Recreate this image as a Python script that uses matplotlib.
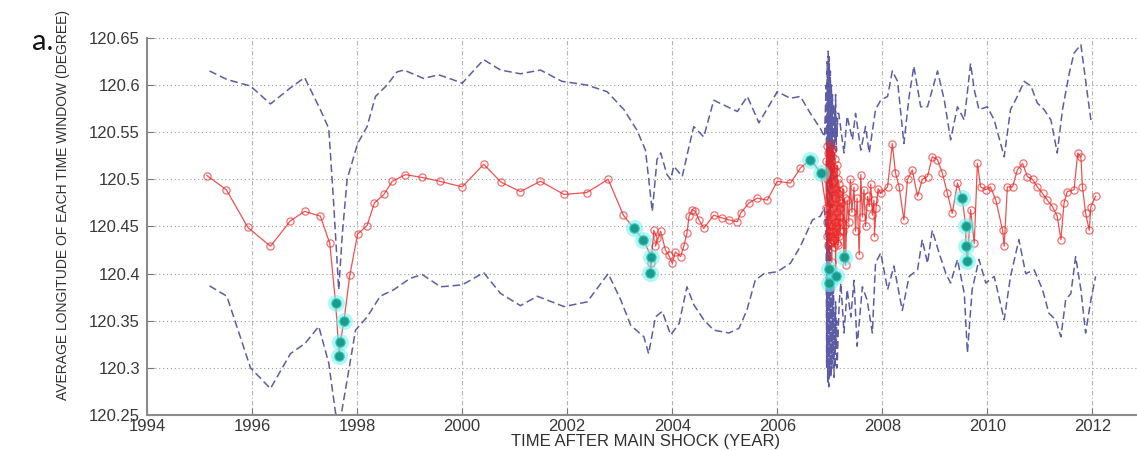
import matplotlib
matplotlib.use("Agg")
import matplotlib.pyplot as plt

# ---- mean longitude of each time window (red circles) ----
mean_t = [
    1995.14, 1995.51, 1995.92, 1996.35, 1996.73, 1997.00, 1997.30, 1997.48,
    1997.59, 1997.66, 1997.68, 1997.75, 1997.86, 1998.01, 1998.19, 1998.33,
    1998.51, 1998.67, 1998.92, 1999.24, 1999.57, 2000.00, 2000.41, 2000.74,
    2001.11, 2001.49, 2001.94, 2002.37, 2002.78, 2003.07, 2003.27, 2003.45,
    2003.60, 2003.59, 2003.58, 2003.65, 2003.71, 2003.68, 2003.78, 2003.87,
    2003.93, 2004.00, 2004.06, 2004.16, 2004.22, 2004.28, 2004.32, 2004.38,
    2004.44, 2004.51, 2004.60, 2004.79, 2004.95, 2005.08, 2005.24, 2005.30,
    2005.46, 2005.62, 2005.81, 2006.00, 2006.25, 2006.44, 2006.63, 2006.83,
    2006.930, 2006.935, 2006.940, 2006.945, 2006.950, 2006.955, 2006.960,
    2006.965, 2006.970, 2006.975, 2006.980, 2006.985, 2006.990, 2006.995,
    2007.000, 2007.005, 2007.010, 2007.015, 2007.020, 2007.025, 2007.030,
    2007.035, 2007.040, 2007.045, 2007.050, 2007.055, 2007.060, 2007.065,
    2007.070, 2007.075, 2007.080, 2007.085, 2007.090, 2007.095, 2007.100,
    2007.105, 2007.110, 2007.115, 2007.120, 2007.125, 2007.130, 2007.135,
    2007.140, 2007.145, 2007.150, 2007.155, 2007.160, 2007.165, 2007.170,
    2007.175, 2007.180, 2007.185, 2007.190, 2007.195, 2007.200,
    2007.22, 2007.24, 2007.25, 2007.26, 2007.27, 2007.28, 2007.29, 2007.30,
    2007.33, 2007.36, 2007.39, 2007.42, 2007.46, 2007.49, 2007.52, 2007.56,
    2007.59, 2007.62, 2007.65, 2007.68, 2007.72, 2007.75, 2007.78, 2007.81,
    2007.84, 2007.85, 2007.88, 2007.92, 2007.97, 2008.10, 2008.19, 2008.25,
    2008.32, 2008.41, 2008.48, 2008.57, 2008.67, 2008.76, 2008.86, 2008.95,
    2009.05, 2009.14, 2009.24, 2009.33, 2009.43, 2009.52, 2009.59, 2009.59,
    2009.62, 2009.68, 2009.75, 2009.81, 2009.87, 2009.97, 2010.06, 2010.16,
    2010.29, 2010.32, 2010.38, 2010.48, 2010.57, 2010.67, 2010.76, 2010.86,
    2010.95, 2011.05, 2011.14, 2011.24, 2011.33, 2011.40, 2011.46, 2011.52,
    2011.65, 2011.72, 2011.78, 2011.81, 2011.87, 2011.94, 2011.97, 2012.06,
]
mean_lon = [
    120.504, 120.489, 120.449, 120.429, 120.456, 120.466, 120.461, 120.432,
    120.369, 120.313, 120.327, 120.350, 120.398, 120.442, 120.451, 120.475,
    120.484, 120.498, 120.505, 120.502, 120.498, 120.492, 120.516, 120.497,
    120.487, 120.498, 120.484, 120.486, 120.500, 120.462, 120.448, 120.436,
    120.418, 120.411, 120.401, 120.446, 120.438, 120.429, 120.445, 120.425,
    120.420, 120.411, 120.423, 120.418, 120.429, 120.443, 120.461, 120.468,
    120.466, 120.457, 120.448, 120.462, 120.459, 120.457, 120.455, 120.464,
    120.475, 120.480, 120.478, 120.498, 120.496, 120.512, 120.521, 120.507,
    120.470, 120.520, 120.440, 120.535, 120.455, 120.500, 120.430,
    120.528, 120.462, 120.390, 120.510, 120.445, 120.405, 120.538,
    120.475, 120.432, 120.515, 120.450, 120.530, 120.440, 120.490,
    120.412, 120.525, 120.460, 120.505, 120.436, 120.532, 120.470,
    120.445, 120.512, 120.428, 120.498, 120.455, 120.522, 120.438,
    120.480, 120.397, 120.508, 120.450, 120.490, 120.432, 120.515,
    120.465, 120.442, 120.500, 120.430, 120.485, 120.455, 120.495,
    120.440, 120.478, 120.460, 120.488, 120.445, 120.470,
    120.475, 120.455, 120.490, 120.445, 120.418, 120.480, 120.452, 120.409,
    120.478, 120.455, 120.500, 120.465, 120.492, 120.445, 120.480, 120.420,
    120.505, 120.460, 120.489, 120.450, 120.482, 120.471, 120.495, 120.462,
    120.478, 120.439, 120.470, 120.490, 120.485, 120.492, 120.538, 120.507,
    120.492, 120.457, 120.500, 120.510, 120.482, 120.500, 120.503, 120.524,
    120.521, 120.507, 120.485, 120.464, 120.496, 120.480, 120.450, 120.429,
    120.413, 120.468, 120.432, 120.517, 120.492, 120.489, 120.492, 120.478,
    120.446, 120.429, 120.492, 120.492, 120.510, 120.517, 120.503, 120.500,
    120.492, 120.485, 120.478, 120.471, 120.461, 120.436, 120.475, 120.487,
    120.489, 120.528, 120.524, 120.492, 120.464, 120.446, 120.471, 120.482,
]

# ---- highlighted windows (cyan) ----
flag_t = [1997.59, 1997.66, 1997.68, 1997.75, 2003.27, 2003.45, 2003.60,
          2003.58, 2006.63, 2006.83, 2006.975, 2006.990, 2007.110, 2007.27,
          2009.52, 2009.59, 2009.59, 2009.62]
flag_lon = [120.369, 120.313, 120.327, 120.350, 120.448, 120.436, 120.418,
            120.401, 120.521, 120.507, 120.390, 120.405, 120.397, 120.418,
            120.480, 120.450, 120.429, 120.413]

# ---- upper bound (dashed) ----
upper_t = [
    1995.19, 1995.52, 1995.97, 1996.35, 1996.73, 1997.00, 1997.30, 1997.46,
    1997.55, 1997.65, 1997.72, 1997.81, 1998.01, 1998.19, 1998.35, 1998.57,
    1998.76, 1998.89, 1999.27, 1999.55, 1999.81, 2000.00, 2000.41, 2000.73,
    2001.11, 2001.49, 2001.90, 2002.38, 2002.76, 2003.08, 2003.33, 2003.49,
    2003.62, 2003.71, 2003.78, 2003.90, 2003.97, 2004.03, 2004.19, 2004.32,
    2004.41, 2004.60, 2004.79, 2005.05, 2005.24, 2005.43, 2005.65, 2006.00,
    2006.25, 2006.44, 2006.63, 2006.82, 2006.90,
    2006.93, 2006.94, 2006.95, 2006.96, 2006.97, 2006.98, 2006.99, 2007.00,
    2007.01, 2007.02, 2007.03, 2007.04, 2007.05, 2007.06, 2007.07, 2007.08,
    2007.09, 2007.10, 2007.11, 2007.12, 2007.13, 2007.14, 2007.15,
    2007.17, 2007.27, 2007.33, 2007.43, 2007.49, 2007.59, 2007.68, 2007.75,
    2007.87, 2007.97, 2008.10, 2008.19, 2008.29, 2008.41, 2008.51, 2008.60,
    2008.73, 2008.86, 2009.05, 2009.18, 2009.30, 2009.43, 2009.56, 2009.68,
    2009.75, 2009.84, 2010.00, 2010.13, 2010.32, 2010.44, 2010.57, 2010.70,
    2010.83, 2010.95, 2011.08, 2011.21, 2011.33, 2011.43, 2011.56, 2011.65,
    2011.78, 2011.91, 2011.97,
]
upper_lon = [
    120.615, 120.606, 120.599, 120.580, 120.597, 120.608, 120.574, 120.554,
    120.478, 120.383, 120.443, 120.500, 120.538, 120.556, 120.588, 120.600,
    120.614, 120.616, 120.607, 120.611, 120.606, 120.602, 120.627, 120.616,
    120.612, 120.616, 120.604, 120.600, 120.593, 120.574, 120.552, 120.531,
    120.466, 120.521, 120.528, 120.505, 120.500, 120.514, 120.503, 120.535,
    120.556, 120.545, 120.584, 120.577, 120.572, 120.588, 120.560, 120.593,
    120.586, 120.588, 120.570, 120.554, 120.545,
    120.600, 120.480, 120.625, 120.470, 120.636, 120.500, 120.630, 120.460,
    120.615, 120.490, 120.600, 120.470, 120.590, 120.520, 120.580, 120.500,
    120.575, 120.540, 120.590, 120.530, 120.565, 120.545, 120.570,
    120.570, 120.528, 120.567, 120.542, 120.570, 120.531, 120.556, 120.528,
    120.574, 120.584, 120.588, 120.615, 120.604, 120.538, 120.588, 120.620,
    120.577, 120.577, 120.615, 120.584, 120.542, 120.577, 120.563, 120.623,
    120.595, 120.574, 120.577, 120.563, 120.524, 120.574, 120.588, 120.604,
    120.599, 120.581, 120.574, 120.563, 120.528, 120.574, 120.613, 120.634,
    120.643, 120.588, 120.563,
]

# ---- lower bound (dashed) ----
lower_t = [
    1995.19, 1995.52, 1995.97, 1996.35, 1996.73, 1997.01, 1997.27, 1997.46,
    1997.59, 1997.68, 1997.81, 1997.97, 1998.19, 1998.44, 1998.70, 1999.01,
    1999.24, 1999.59, 2000.00, 2000.41, 2000.73, 2001.11, 2001.43, 2001.94,
    2002.38, 2002.78, 2003.02, 2003.21, 2003.46, 2003.55, 2003.68, 2003.81,
    2003.97, 2004.13, 2004.28, 2004.41, 2004.60, 2004.79, 2005.08, 2005.27,
    2005.42, 2005.58, 2005.75, 2006.00, 2006.25, 2006.44, 2006.67, 2006.82,
    2006.90,
    2006.93, 2006.94, 2006.95, 2006.96, 2006.97, 2006.98, 2006.99, 2007.00,
    2007.01, 2007.02, 2007.03, 2007.04, 2007.05, 2007.06, 2007.07, 2007.08,
    2007.09, 2007.10, 2007.11, 2007.12, 2007.13, 2007.14, 2007.16, 2007.18,
    2007.21, 2007.27, 2007.33, 2007.40, 2007.46, 2007.52, 2007.62, 2007.71,
    2007.81, 2007.87, 2007.97, 2008.10, 2008.22, 2008.38, 2008.51, 2008.67,
    2008.76, 2008.86, 2008.95, 2009.08, 2009.21, 2009.30, 2009.43, 2009.56,
    2009.62, 2009.71, 2009.84, 2009.97, 2010.13, 2010.32, 2010.44, 2010.60,
    2010.73, 2010.89, 2011.05, 2011.17, 2011.30, 2011.40, 2011.49, 2011.59,
    2011.68, 2011.78, 2011.87, 2011.97, 2012.06,
]
lower_lon = [
    120.387, 120.376, 120.300, 120.278, 120.315, 120.326, 120.344, 120.305,
    120.252, 120.245, 120.287, 120.340, 120.354, 120.376, 120.383, 120.395,
    120.399, 120.386, 120.388, 120.401, 120.379, 120.366, 120.376, 120.365,
    120.370, 120.400, 120.372, 120.345, 120.333, 120.315, 120.354, 120.360,
    120.335, 120.347, 120.386, 120.367, 120.351, 120.340, 120.337, 120.342,
    120.361, 120.393, 120.400, 120.402, 120.411, 120.429, 120.457, 120.461,
    120.470,
    120.440, 120.300, 120.460, 120.285, 120.470, 120.280, 120.450, 120.295,
    120.430, 120.290, 120.400, 120.300, 120.380, 120.310, 120.390, 120.290,
    120.360, 120.300, 120.370, 120.320, 120.350, 120.300, 120.340, 120.370,
    120.390, 120.337, 120.383, 120.354, 120.393, 120.323, 120.386, 120.372,
    120.337, 120.411, 120.422, 120.383, 120.408, 120.361, 120.397, 120.404,
    120.436, 120.411, 120.446, 120.422, 120.400, 120.390, 120.415, 120.379,
    120.316, 120.383, 120.415, 120.390, 120.397, 120.351, 120.397, 120.436,
    120.400, 120.404, 120.383, 120.358, 120.351, 120.333, 120.372, 120.379,
    120.418, 120.383, 120.337, 120.372, 120.397,
]

year_ticks = [1994, 1996, 1998, 2000, 2002, 2004, 2006, 2008, 2010, 2012]
lon_ticks = [120.25, 120.30, 120.35, 120.40, 120.45, 120.50, 120.55, 120.60, 120.65]
lon_tick_labels = ["120.25", "120.3", "120.35", "120.4", "120.45",
                   "120.5", "120.55", "120.6", "120.65"]

plt.rcParams["font.family"] = ["Liberation Sans", "DejaVu Sans"]

fig = plt.figure(figsize=(11.37, 4.5), dpi=100)
ax = fig.add_axes([0.1293, 0.0778, 0.8777, 0.8378])
ax.set_xlim(1994, 2013)
ax.set_ylim(120.25, 120.65)

bound_color = "#34348f"
ax.plot(upper_t, upper_lon, color=bound_color, lw=1.1, dashes=(5, 2.5), alpha=0.8)
ax.plot(lower_t, lower_lon, color=bound_color, lw=1.1, dashes=(5, 2.5), alpha=0.8)

ax.plot(mean_t, mean_lon, "-", color="#e62828", lw=0.9, alpha=0.8)
ax.plot(mean_t, mean_lon, "o", mfc="none", mec="#ee2222", mew=0.9, ms=5.2, alpha=0.65)

ax.scatter(flag_t, flag_lon, s=150, color="#6ff0ee", alpha=0.55, lw=0, zorder=4)
ax.scatter(flag_t, flag_lon, s=45, color="#1e9a8a", edgecolor="#2fc9bd", lw=0.8, zorder=5)

ax.set_xticks(year_ticks)
ax.set_yticks(lon_ticks)
ax.set_yticklabels(lon_tick_labels)

ax.grid(True, axis="y", color="#9a9a9a", lw=0.8, linestyle=(0, (1, 2.5)))
ax.grid(True, axis="x", color="#b4b4b4", lw=0.8, linestyle=(0, (4, 2, 1, 2)))

for side in ("top", "right"):
    ax.spines[side].set_visible(False)
for side in ("left", "bottom"):
    ax.spines[side].set_color("#8c8c8c")
    ax.spines[side].set_linewidth(1.5)

ax.tick_params(direction="in", length=5, width=0.8, color="#777777",
               labelsize=12, labelcolor="#383838")
ax.tick_params(axis="x", pad=3)
ax.tick_params(axis="y", pad=5)

ax.set_xlabel("TIME AFTER MAIN SHOCK (YEAR)", fontsize=12, color="#303030")
ax.xaxis.set_label_coords(0.5, -0.05)
ax.set_ylabel("AVERAGE LONGITUDE OF EACH TIME WINDOW (DEGREE)", fontsize=10,
              color="#303030")
ax.yaxis.set_label_coords(-0.077, 0.557)

fig.text(0.028, 0.89, "a.", fontsize=21, family=["Lato", "DejaVu Sans"], color="#111111")

fig.savefig("out.png", dpi=100)
